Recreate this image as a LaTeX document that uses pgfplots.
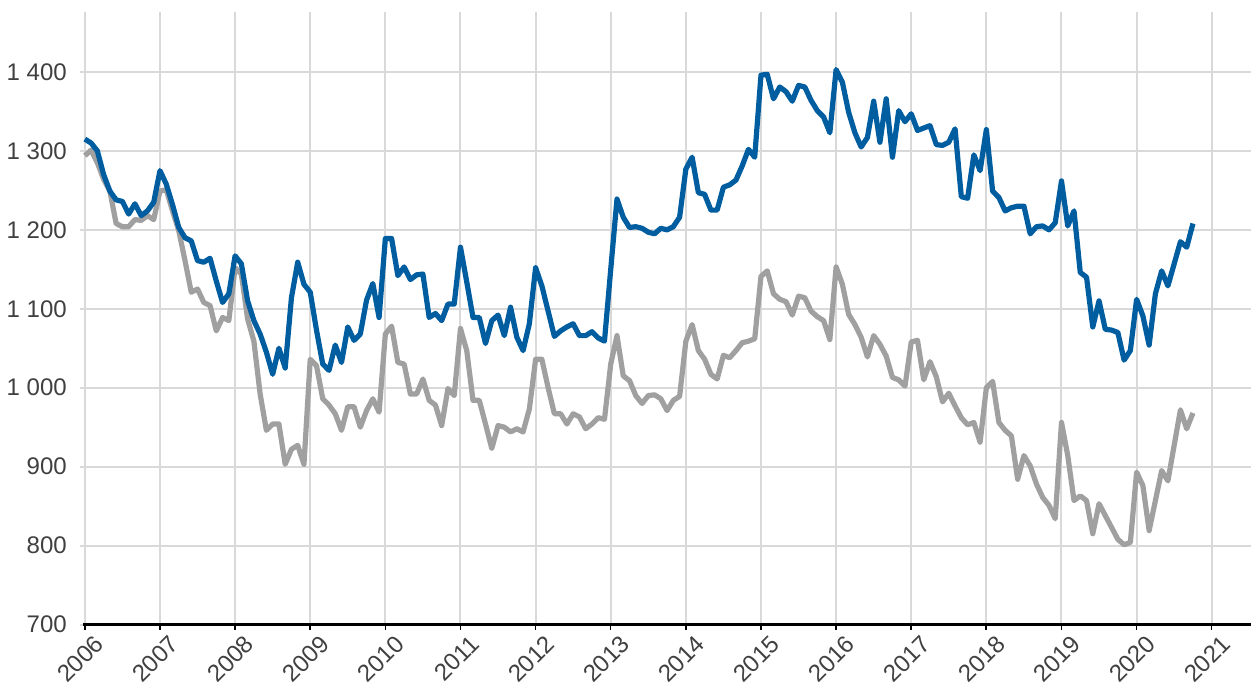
\documentclass[border=0pt]{standalone}
\usepackage{fontspec}
\setmainfont{Liberation Sans}
\usepackage{pgfplots}
\usepackage{pgfplotstable}
\pgfplotsset{compat=1.18}
\definecolor{ser1}{HTML}{005DA0}
\definecolor{ser2}{HTML}{A0A0A0}
\definecolor{gridc}{HTML}{D9D9D9}
\definecolor{lbl}{HTML}{404040}

% y = year, m = month, b = blue series, g = grey series
\pgfplotstableread{
y m b g
2006 1 1315 1294
2006 2 1310 1301
2006 3 1300 1285
2006 4 1270 1264
2006 5 1249 1249
2006 6 1238 1208
2006 7 1236 1204
2006 8 1220 1204
2006 9 1233 1213
2006 10 1218 1212
2006 11 1224 1218
2006 12 1235 1213
2007 1 1275 1249
2007 2 1258 1251
2007 3 1232 1224
2007 4 1203 1199
2007 5 1190 1161
2007 6 1186 1121
2007 7 1161 1125
2007 8 1159 1108
2007 9 1164 1104
2007 10 1135 1072
2007 11 1108 1089
2007 12 1119 1085
2008 1 1167 1152
2008 2 1157 1144
2008 3 1110 1087
2008 4 1085 1059
2008 5 1068 992
2008 6 1045 946
2008 7 1017 954
2008 8 1050 954
2008 9 1025 903
2008 10 1114 922
2008 11 1159 927
2008 12 1131 903
2009 1 1121 1036
2009 2 1073 1028
2009 3 1030 986
2009 4 1022 978
2009 5 1054 967
2009 6 1032 946
2009 7 1077 976
2009 8 1060 976
2009 9 1068 950
2009 10 1111 971
2009 11 1132 986
2009 12 1089 969
2010 1 1189 1068
2010 2 1189 1078
2010 3 1142 1032
2010 4 1153 1030
2010 5 1137 992
2010 6 1143 992
2010 7 1144 1011
2010 8 1089 984
2010 9 1094 978
2010 10 1085 952
2010 11 1106 999
2010 12 1106 990
2011 1 1178 1075
2011 2 1134 1047
2011 3 1089 984
2011 4 1089 984
2011 5 1056 954
2011 6 1085 923
2011 7 1092 952
2011 8 1066 950
2011 9 1102 944
2011 10 1064 948
2011 11 1047 944
2011 12 1081 973
2012 1 1152 1036
2012 2 1129 1036
2012 3 1097 1000
2012 4 1065 967
2012 5 1072 967
2012 6 1077 954
2012 7 1081 967
2012 8 1066 963
2012 9 1066 948
2012 10 1071 954
2012 11 1063 962
2012 12 1059 960
2013 1 1150 1030
2013 2 1239 1066
2013 3 1216 1015
2013 4 1203 1009
2013 5 1204 990
2013 6 1202 980
2013 7 1197 990
2013 8 1195 991
2013 9 1202 986
2013 10 1200 971
2013 11 1204 984
2013 12 1216 989
2014 1 1277 1059
2014 2 1292 1080
2014 3 1247 1047
2014 4 1245 1036
2014 5 1225 1017
2014 6 1225 1011
2014 7 1254 1041
2014 8 1257 1038
2014 9 1263 1047
2014 10 1281 1057
2014 11 1302 1059
2014 12 1292 1062
2015 1 1396 1141
2015 2 1397 1148
2015 3 1366 1119
2015 4 1381 1112
2015 5 1375 1109
2015 6 1363 1092
2015 7 1383 1116
2015 8 1381 1114
2015 9 1364 1097
2015 10 1351 1090
2015 11 1343 1085
2015 12 1323 1061
2016 1 1403 1153
2016 2 1387 1131
2016 3 1349 1093
2016 4 1323 1080
2016 5 1305 1064
2016 6 1317 1039
2016 7 1363 1066
2016 8 1311 1055
2016 9 1366 1040
2016 10 1292 1013
2016 11 1351 1010
2016 12 1337 1002
2017 1 1347 1058
2017 2 1326 1060
2017 3 1329 1010
2017 4 1332 1033
2017 5 1308 1014
2017 6 1307 982
2017 7 1311 993
2017 8 1328 977
2017 9 1242 962
2017 10 1240 953
2017 11 1295 956
2017 12 1275 931
2018 1 1327 1000
2018 2 1249 1008
2018 3 1241 956
2018 4 1224 946
2018 5 1228 939
2018 6 1230 884
2018 7 1230 914
2018 8 1195 901
2018 9 1204 878
2018 10 1205 861
2018 11 1200 851
2018 12 1209 834
2019 1 1262 956
2019 2 1205 914
2019 3 1224 857
2019 4 1146 863
2019 5 1140 857
2019 6 1077 815
2019 7 1110 853
2019 8 1074 838
2019 9 1073 823
2019 10 1070 808
2019 11 1035 801
2019 12 1047 804
2020 1 1112 893
2020 2 1091 876
2020 3 1054 819
2020 4 1119 857
2020 5 1148 895
2020 6 1129 882
2020 7 1157 927
2020 8 1185 972
2020 9 1178 948
2020 10 1208 968
}\datatable

\begin{document}
\begin{tikzpicture}
\begin{axis}[
  scale only axis,
  width=582.5pt, height=306pt,
  xmin=2006, xmax=2021.52,
  ymin=700, ymax=1476,
  xtick={2006,2007,...,2021},
  ytick={700,800,...,1400},
  axis lines*=left,
  x axis line style={black, line width=1.2pt, shorten <=-1pt},
  y axis line style={draw=none},
  ytick style={gridc, line width=1pt},
  xtick style={black, line width=0.8pt},
  tick align=outside,
  major tick length=2.5pt,
  grid=major,
  grid style={gridc, line width=1pt},
  tick label style={font=\fontsize{12}{14}\selectfont, text=lbl},
  /pgf/number format/assume math mode=true,
  xticklabel style={/pgf/number format/1000 sep={}, rotate=45, anchor=north east, xshift=5pt, yshift=-1pt},
  yticklabel style={/pgf/number format/1000 sep={\ }, xshift=-3pt},
  clip=false,
  after end axis/.code={\path (rel axis cs:0,1) ++(0,6pt);},
]
\addplot[ser2, line width=2.6pt, line join=round]
  table[x expr=\thisrow{y}+(\thisrow{m}-1)/12, y=g] {\datatable};
\addplot[ser1, line width=2.6pt, line join=round]
  table[x expr=\thisrow{y}+(\thisrow{m}-1)/12, y=b] {\datatable};
\end{axis}
\end{tikzpicture}
\end{document}
